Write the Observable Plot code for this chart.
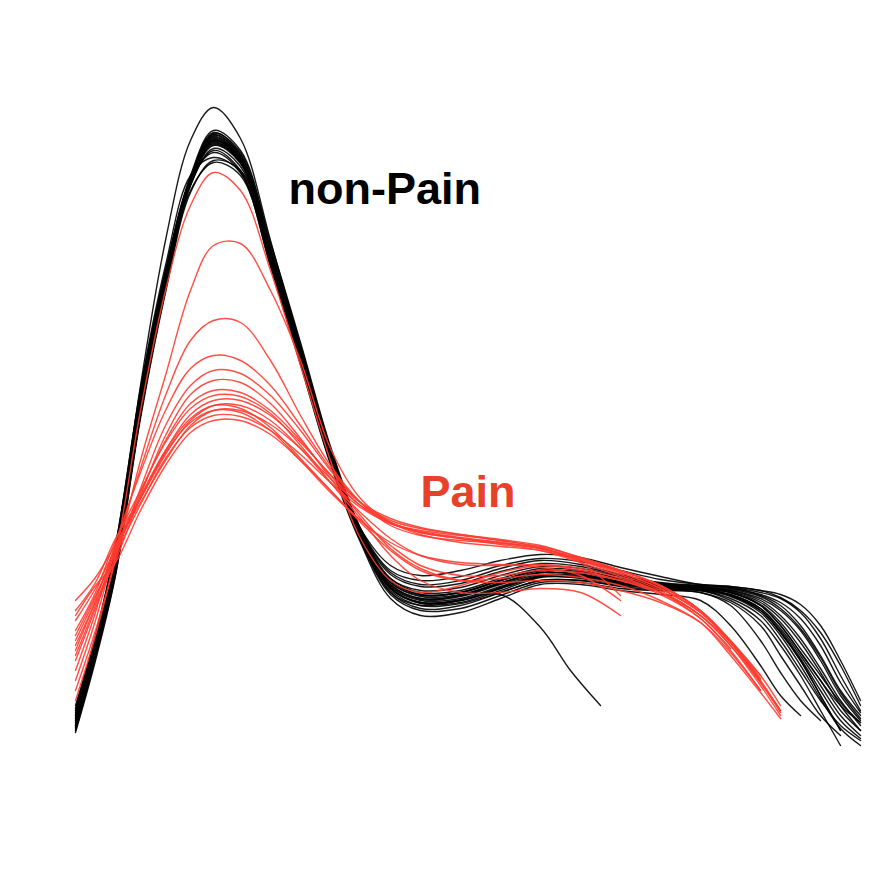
<!DOCTYPE html>
<html>
<head>
<meta charset="utf-8">
<script src="https://cdn.jsdelivr.net/npm/d3@7"></script>
<script src="https://cdn.jsdelivr.net/npm/@observablehq/plot@0.6"></script>
<style>
  html, body { margin: 0; padding: 0; background: #fff; }
  #chart svg { display: block; }
</style>
</head>
<body>
<div id="chart"></div>
<script>
// shared sample positions (arbitrary time units)
const knots = [0, 20, 40, 65, 90, 115, 138, 165, 195, 225, 255, 285, 315, 345, 385, 425, 465, 505, 545, 585, 625, 655, 685, 705, 725, 745, 765, 785];

// non-Pain curves (amplitude at each knot; shorter arrays end earlier)
const nonPain = [
  [30, 105, 195, 355, 480, 578, 625, 605, 508, 408, 306, 226, 172, 158, 160, 172, 184, 182, 176, 173, 172, 168, 155, 135, 108, 80, 55, 38],
  [40, 115, 205, 365, 490, 585, 630, 610, 518, 418, 314, 232, 182, 168, 170, 182, 192, 190, 182, 176, 175, 173, 165, 155, 135, 105, 70, 45],
  [50, 122, 215, 362, 484, 575, 612, 594, 500, 400, 300, 220, 166, 150, 152, 165, 178, 178, 172, 170, 170, 160, 140, 115, 85, 50, 15],
  [35, 108, 198, 358, 486, 582, 622, 602, 506, 406, 304, 225, 176, 162, 165, 177, 188, 186, 178, 173, 172, 165, 150, 128, 100, 65, 30],
  [45, 118, 204, 360, 482, 576, 615, 597, 504, 404, 306, 230, 188, 176, 180, 192, 200, 196, 186, 178, 175, 173, 168, 162, 148, 122, 85, 50],
  [28, 100, 185, 345, 474, 575, 618, 598, 498, 398, 298, 220, 170, 155, 157, 168, 180, 180, 174, 170, 168, 155, 120, 88, 60, 40],
  [55, 125, 215, 370, 490, 580, 608, 588, 494, 396, 296, 218, 162, 145, 148, 162, 176, 176, 170, 166, 160, 135, 95, 65, 45],
  [38, 112, 202, 362, 487, 583, 628, 606, 512, 412, 308, 228, 178, 164, 166, 178, 188, 186, 179, 175, 172, 168, 155, 135, 108, 80, 50, 30],
  [42, 114, 200, 358, 483, 579, 620, 601, 505, 405, 303, 224, 174, 160, 162, 174, 185, 184, 178, 173, 170, 162, 145, 120, 90, 60, 35, 20],
  [32, 106, 196, 357, 484, 581, 624, 603, 510, 410, 306, 227, 180, 166, 168, 180, 190, 188, 181, 177, 174, 170, 160, 145, 122, 92, 60, 35],
  [48, 120, 206, 363, 487, 580, 616, 598, 502, 402, 302, 222, 168, 152, 155, 168, 180, 180, 175, 172, 171, 165, 150, 128, 100, 65, 30],
  [36, 109, 199, 359, 485, 580, 621, 601, 507, 407, 304, 225, 175, 161, 164, 176, 186, 185, 178, 173, 170, 164, 148, 125, 95, 62, 32, 15],
  [52, 124, 209, 364, 486, 577, 610, 590, 500, 402, 304, 232, 195, 185, 190, 200, 206, 203, 193, 184, 176, 174, 170, 163, 150, 128, 95, 55],
  [30, 103, 188, 350, 478, 579, 626, 604, 512, 412, 307, 226, 172, 157, 158, 170, 183, 183, 177, 174, 171, 166, 152, 130, 102, 70, 40, 22],
  [44, 117, 203, 361, 486, 581, 619, 600, 506, 406, 305, 228, 182, 170, 173, 185, 194, 192, 184, 177, 173, 170, 162, 150, 130, 100, 65, 40],
  [34, 107, 197, 357, 483, 580, 623, 602, 508, 408, 304, 224, 173, 158, 160, 172, 184, 183, 177, 172, 168, 158, 135, 105, 75, 45, 25],
  [40, 113, 201, 360, 485, 582, 627, 608, 516, 416, 312, 231, 180, 166, 168, 180, 190, 188, 181, 175, 173, 171, 164, 152, 132, 103, 68, 42],
  [46, 119, 205, 362, 486, 579, 617, 599, 505, 405, 304, 226, 178, 165, 168, 180, 190, 189, 182, 176, 174, 172, 166, 158, 142, 115, 78, 48],
  [42, 110, 190, 345, 470, 570, 598, 585, 495, 398, 298, 222, 172, 158, 161, 173, 184, 183, 178, 174, 171, 166, 152, 132, 105, 75, 45, 25],
  [50, 118, 212, 372, 495, 585, 603, 588, 502, 404, 306, 230, 186, 174, 177, 189, 197, 194, 185, 177, 173, 169, 158, 142, 118, 88, 55, 30],
  [33, 104, 186, 342, 468, 568, 600, 590, 510, 412, 310, 232, 190, 180, 184, 195, 202, 199, 190, 181, 176, 174, 170, 166, 156, 135, 100, 60],
  [38, 112, 205, 375, 520, 620, 653, 622, 520, 412, 306, 226, 176, 162, 165, 177, 188, 186, 179, 175, 172, 168, 156, 138, 112, 85, 58, 38]
];

// one short non-Pain curve with its own sample positions
const nonPainShortX = [0, 20, 40, 65, 90, 115, 138, 165, 195, 225, 255, 285, 315, 345, 385, 425, 465, 495, 525];
const nonPainShortY = [35, 108, 198, 358, 484, 580, 620, 600, 505, 405, 305, 225, 168, 155, 160, 166, 133, 90, 55];

// Pain curves
const pain = [
  [60, 125, 205, 350, 470, 555, 588, 570, 490, 395, 300, 222, 180, 168, 175, 188, 195, 190, 180, 168, 145, 115, 75, 45],
  [70, 130, 200, 300, 385, 470, 515, 517, 470, 400, 312, 262, 238, 226, 218, 214, 210, 200, 188, 172, 148, 118, 80],
  [80, 140, 212, 292, 365, 420, 440, 438, 400, 345, 295, 258, 235, 225, 220, 217, 212, 202, 190, 175, 150, 120, 82],
  [90, 148, 218, 288, 350, 392, 405, 400, 375, 335, 292, 258, 238, 228, 222, 218, 212, 198, 165],
  [100, 152, 204, 272, 335, 375, 390, 387, 365, 330, 290, 258, 240, 232, 226, 220, 214, 203, 190, 175, 150, 118, 78, 48],
  [110, 158, 200, 265, 325, 366, 380, 378, 357, 322, 282, 245, 212, 192, 180, 178, 180, 178, 170, 158, 138, 108, 70],
  [120, 163, 210, 268, 320, 357, 370, 368, 350, 320, 285, 255, 237, 230, 225, 220, 213, 200, 186, 170, 145, 115, 78, 50],
  [130, 168, 220, 270, 318, 352, 365, 364, 347, 315, 278, 242, 205, 180, 168, 168, 172, 168, 145],
  [140, 172, 212, 262, 310, 346, 360, 360, 345, 318, 286, 258, 242, 233, 226, 221, 215, 203, 190, 174, 150, 120, 85, 55],
  [150, 178, 222, 262, 306, 340, 355, 355, 340, 312, 278, 248, 222, 205, 196, 195, 196, 192, 182, 168, 145, 118, 85],
  [160, 183, 216, 258, 300, 335, 350, 350, 336, 312, 282, 255, 238, 228, 222, 216, 210, 198, 184, 168, 142, 112],
  [125, 165, 206, 256, 302, 333, 345, 344, 330, 306, 278, 253, 237, 229, 223, 218, 212, 201, 188, 172, 148, 118, 80, 50],
  [145, 175, 198, 250, 295, 328, 340, 340, 326, 300, 270, 240, 218, 205, 198, 196, 193, 185, 160],
  [105, 155, 208, 262, 308, 338, 350, 348, 330, 300, 268, 240, 215, 195, 185, 185, 190, 188, 180, 166, 142, 110, 70],
  [115, 160, 214, 264, 310, 342, 355, 352, 333, 302, 270, 238, 210, 190, 180, 182, 186, 183, 175, 160, 138, 105, 68, 42]
];

const labels = [
  {text: "non-Pain", x: 213, y: 557, color: "#000000"},
  {text: "Pain", x: 345, y: 254, color: "#e8412a"}
];

// build long-format tables
const blackRows = [];
nonPain.forEach((c, i) => c.forEach((v, j) => blackRows.push({id: "n" + i, t: knots[j], v})));
nonPainShortX.forEach((t, j) => blackRows.push({id: "nshort", t, v: nonPainShortY[j]}));
const redRows = [];
pain.forEach((c, i) => c.forEach((v, j) => redRows.push({id: "p" + i, t: knots[j], v})));

const chart = Plot.plot({
  width: 870,
  height: 870,
  margin: 0,
  style: {background: "#fff"},
  x: {domain: [0, 795], range: [75, 870], axis: null},
  y: {domain: [0, 650], range: [760, 110], axis: null},
  marks: [
    Plot.line(blackRows, {x: "t", y: "v", z: "id", stroke: "#000", strokeWidth: 1.4, strokeOpacity: 0.9, curve: "catmull-rom"}),
    Plot.line(redRows, {x: "t", y: "v", z: "id", stroke: "#ff3b30", strokeWidth: 1.4, strokeOpacity: 0.9, curve: "catmull-rom"}),
    Plot.text(labels, {x: "x", y: "y", text: "text", fill: "color", textAnchor: "start", lineAnchor: "bottom",
      fontSize: 45, fontWeight: "bold", fontFamily: "Liberation Sans, Arial, sans-serif"})
  ]
});
document.getElementById("chart").appendChild(chart);
</script>
</body>
</html>
